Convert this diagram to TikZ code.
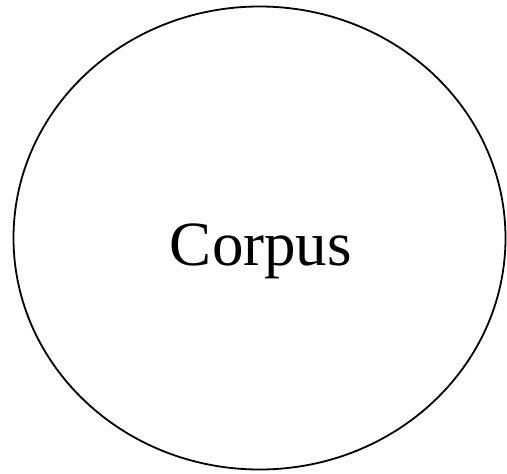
\documentclass[tikz,border=0pt]{standalone}
\usepackage{fontspec}
\setmainfont{Liberation Serif}
\usetikzlibrary{shapes.geometric}
\begin{document}
\begin{tikzpicture}[x=1pt,y=-1pt,
  corpusshape/.style={draw=black, line width=1.8pt, ellipse, minimum width=492pt, minimum height=463pt, inner sep=0pt},
  corpustext/.style={inner sep=0pt, font=\fontsize{63}{70}\selectfont}]
\useasboundingbox (0,0) rectangle (507,474);
\node[corpusshape] (corpus) at (259.5,238) {};
\node[corpustext, anchor=base] (corpuslabel) at (261,265) {Corpus};
\end{tikzpicture}
\end{document}
